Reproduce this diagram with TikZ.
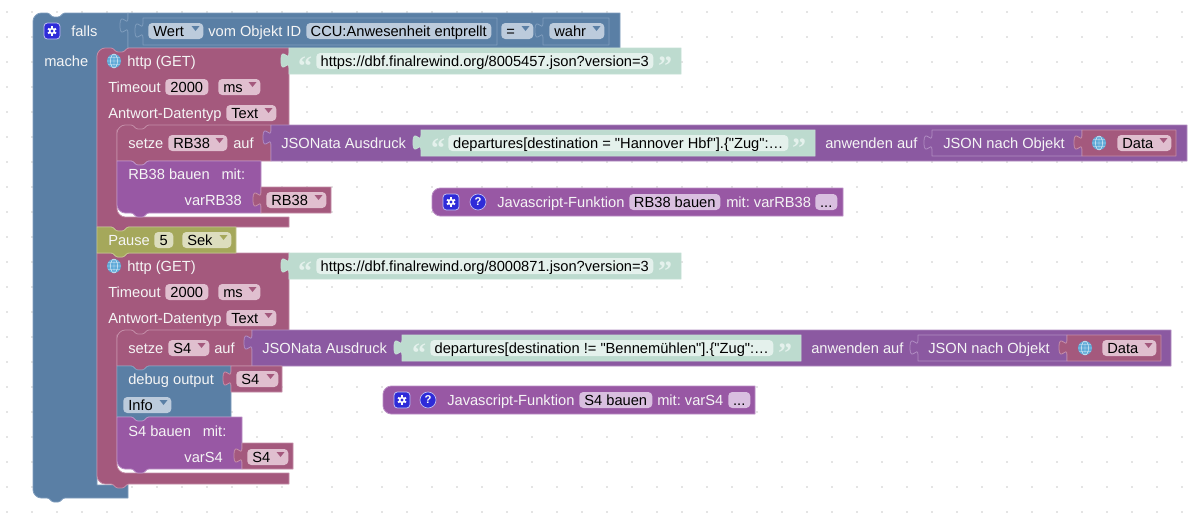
\documentclass[tikz,border=0pt]{standalone}
\usepackage{fontspec}
\usepackage{tikz}
\setmainfont{Liberation Sans}
\newfontfamily\quotefont{Liberation Serif}
\newfontfamily\plainfont{Liberation Sans}[Ligatures=ResetAll]
\usetikzlibrary{positioning,calc}

\definecolor{blueblock}{HTML}{5A7FA5}
\definecolor{blueline}{HTML}{7F9DBD}
\definecolor{bluefield}{HTML}{BCCBDC}
\definecolor{pinkblock}{HTML}{A4597D}
\definecolor{pinkline}{HTML}{C48DA8}
\definecolor{pinkfield}{HTML}{E0BFCF}
\definecolor{purpleblock}{HTML}{9858A4}
\definecolor{purpleline}{HTML}{BB8FC5}
\definecolor{purplefield}{HTML}{D9BFE0}
\definecolor{jsonblock}{HTML}{8B59A1}
\definecolor{jsonline}{HTML}{B08CC2}
\definecolor{greenblock}{HTML}{A5A85B}
\definecolor{greenline}{HTML}{C2C48C}
\definecolor{greenfield}{HTML}{DCDDBE}
\definecolor{tealblock}{HTML}{BDDBCF}
\definecolor{tealfield}{HTML}{E4F1EC}
\definecolor{iconblue}{HTML}{2E2BD8}
\definecolor{globeblue}{HTML}{5FAAD8}

\tikzset{
	blk/.style 2 args={fill=#1,draw=#2,line width=0.6pt,line join=round},
	blueblk/.style={blk={blueblock}{blueline}},
	pinkblk/.style={blk={pinkblock}{pinkline}},
	purpleblk/.style={blk={purpleblock}{purpleline}},
	jsonblk/.style={blk={jsonblock}{jsonline}},
	greenblk/.style={blk={greenblock}{greenline}},
	tealblk/.style={fill=tealblock,draw=tealblock!90!white,line width=0.6pt},
	txt/.style={inner sep=0pt,text height=10pt,text depth=2pt,font=\fontsize{11pt}{12pt}\selectfont\frenchspacing},
	lbl/.style={txt,anchor=west,text=white!96!black},
	field/.style={txt,anchor=west,text=black,rounded corners=3pt,minimum width=#1*0.75pt,align=center},
	ddfield/.style={txt,anchor=west,text=black,rounded corners=3pt,inner xsep=3.75pt,text width=#1*0.75pt-7.5pt,align=left},
	quot/.style={inner sep=0pt,anchor=base,text=tealfield,font=\quotefont\bfseries\fontsize{21pt}{21pt}\selectfont},
}

% top and bottom notch of a block, tab of a block on its left side
\newcommand{\notchtop}[2]{-- (#1+14,#2) .. controls (#1+17,#2) and (#1+18,#2+4) .. (#1+21,#2+4) -- (#1+25,#2+4) .. controls (#1+28,#2+4) and (#1+29,#2) .. (#1+32,#2)}
\newcommand{\notchbot}[2]{-- (#1+32,#2) .. controls (#1+29,#2) and (#1+28,#2+4) .. (#1+25,#2+4) -- (#1+21,#2+4) .. controls (#1+18,#2+4) and (#1+17,#2) .. (#1+14,#2)}
\newcommand{\tabin}[2]{-- (#1,#2+20) .. controls (#1,#2+10) and (#1-8,#2+28) .. (#1-8,#2+12.5) .. controls (#1-8,#2-3) and (#1,#2+15) .. (#1,#2+5)}
% block with a tab: x1, x2, top, bottom
\newcommand{\valblock}[5]{\draw[#1] (#2,#4) -- (#3,#4) -- (#3,#5) -- (#2,#5) \tabin{#2}{#4} -- cycle;}
\newcommand{\ddarrow}[2]{\fill[#2,line join=round] ([shift={(-12,-5)}]#1.east) -- ++(8,0) -- ++(-4,5) -- cycle;}
\newcommand{\straightq}{{\plainfont"}}
\newcommand{\gearicon}[2]{
	\draw[fill=iconblue,draw=white!70!iconblue,line width=0.6pt,rounded corners=2.5pt] (#1-8,#2-8) rectangle (#1+8,#2+8);
	\foreach \a in {30,90,...,330}
		\draw[white,line width=1.4pt] (#1,#2) -- ++(\a:4.6);
	\fill[white] (#1,#2) circle (3.2);
	\fill[iconblue] (#1,#2) circle (1.6);
}
\newcommand{\globeicon}[2]{
	\fill[globeblue] (#1,#2) circle (7);
	\draw[white!85!globeblue,line width=0.35pt] (#1,#2-7) -- (#1,#2+7) (#1-7,#2) -- (#1+7,#2) (#1-6,#2-3.5) -- (#1+6,#2-3.5) (#1-6,#2+3.5) -- (#1+6,#2+3.5) (#1,#2) ellipse (3.5 and 7);
}

\begin{document}
\begin{tikzpicture}[x=0.75pt,y=-0.75pt]
	\useasboundingbox (0,0) rectangle (1200,514);
	\foreach \x in {7,32,...,1182}
		\foreach \y in {12,37,...,512}
			\fill[black!45] (\x,\y) circle (0.55);

	% falls
	\draw[blueblk] (33,21) .. controls (33,17) and (37,13) .. (41,13) \notchtop{33}{13} -- (128,13) -- (128,56) -- (97,56) -- (97,485) -- (128,485) -- (128,498) \notchbot{33}{498} -- (41,498) .. controls (37,498) and (33,494) .. (33,490) -- cycle;
	\valblock{blueblk}{128}{620}{13}{48}
	\valblock{blueblk}{143}{497}{18}{45}
	\valblock{blueblk}{543}{609}{18}{45}
	\gearicon{52}{31}
	\node[lbl] (falls) at (71,31) {falls};
	\node[lbl] (mache) at (44,61) {mache};
	\node[ddfield=55,fill=bluefield] (wert) at (148,31) {Wert};
	\ddarrow{wert}{blueblock}
	\node[lbl] (vomobjekt) at (208,31) {vom Objekt ID};
	\node[field=185,fill=bluefield] (ccu) at (306,31) {CCU:Anwesenheit entprellt};
	\node[ddfield=32,fill=bluefield] (gleich) at (501,31) {=};
	\ddarrow{gleich}{blueblock}
	\node[ddfield=55,fill=bluefield] (wahr) at (549,31) {wahr};
	\ddarrow{wahr}{blueblock}

	% both http blocks, second one below the pause
	\draw[pinkblk] (97,56) .. controls (97,52) and (101,48) .. (105,48) \notchtop{97}{48} -- (289,48) -- (289,130) -- (117,130) -- (117,209) .. controls (117,213) and (121,217) .. (125,217) -- (289,217) -- (289,227) \notchbot{97}{227} -- (97,227) -- cycle;
	\draw[pinkblk] (97,253) \notchtop{97}{253} -- (289,253) -- (289,335) -- (117,335) -- (117,465) .. controls (117,469) and (121,473) .. (125,473) -- (289,473) -- (289,484) \notchbot{97}{484} -- (105,484) .. controls (101,484) and (97,480) .. (97,476) -- cycle;
	\foreach \y/\n/\num in {0/a/8005457,205/b/8000871}{
		\globeicon{114}{61+\y}
		\node[lbl] (http\n) at (127,61+\y) {http (GET)};
		\node[lbl] (timeout\n) at (108,87+\y) {Timeout};
		\node[field=43,fill=pinkfield] (ms\n) at (165,87+\y) {2000};
		\node[ddfield=42,fill=pinkfield] (unit\n) at (218,87+\y) {ms};
		\ddarrow{unit\n}{pinkblock}
		\node[lbl] (antwort\n) at (108,113+\y) {Antwort-Datentyp};
		\node[ddfield=50,fill=pinkfield] (typ\n) at (226,113+\y) {Text};
		\ddarrow{typ\n}{pinkblock}
		\valblock{tealblk}{289}{681}{48+\y}{74+\y}
		\node[quot] (open\n) at (305,75+\y) {“};
		\node[field=337,fill=tealfield] (url\n) at (316,61+\y) {https://dbf.finalrewind.org/\num.json?version=3};
		\node[quot] (close\n) at (665,75+\y) {”};
	}

	% pause
	\draw[greenblk] (97,227) \notchtop{97}{227} -- (236,227) -- (236,253) \notchbot{97}{253} -- (97,253) -- cycle;
	\node[lbl] (pause) at (108,240) {Pause};
	\node[field=19,fill=greenfield] (sek) at (154,240) {5};
	\node[ddfield=49,fill=greenfield] (einheit) at (182,240) {Sek};
	\ddarrow{einheit}{greenblock}

	% setze RB38
	\draw[pinkblk] (117,133) .. controls (117,129) and (121,125) .. (125,125) \notchtop{117}{125} -- (271,125) -- (271,161) \notchbot{117}{161} -- (117,161) -- cycle;
	\node[lbl] (setzea) at (128,143) {setze};
	\node[ddfield=59,fill=pinkfield] (rba) at (168,143) {RB38};
	\ddarrow{rba}{pinkblock}
	\node[lbl] (aufa) at (233,143) {auf};
	\valblock{jsonblk}{271}{1187}{125}{161}
	\node[lbl] (jsonata) at (281,143) {JSONata Ausdruck};
	\valblock{tealblk}{421}{815}{130}{156}
	\node[quot] (opena) at (438,157) {“};
	\node[field=340,fill=tealfield] (ausdrucka) at (448,143) {departures[destination = \straightq Hannover Hbf\straightq].\{\straightq Zug\straightq:…};
	\node[quot] (closea) at (799,157) {”};
	\node[lbl] (anwendena) at (825,143) {anwenden auf};
	\valblock{jsonblk}{932}{1082}{130}{156}
	\node[lbl] (nachobjekta) at (943,143) {JSON nach Objekt};
	\valblock{pinkblk}{1082}{1176}{130}{156}
	\globeicon{1099}{143}
	\node[ddfield=54,fill=pinkfield] (dataa) at (1117,143) {Data};
	\ddarrow{dataa}{pinkblock}

	% RB38 bauen
	\draw[purpleblk] (117,161) \notchtop{117}{161} -- (261,161) -- (261,213) \notchbot{117}{213} -- (125,213) .. controls (121,213) and (117,209) .. (117,205) -- cycle;
	\node[lbl] (bauena) at (128,174) {RB38 bauen\hspace{0.8em}mit:};
	\node[lbl,anchor=east] (vara) at (242,200) {varRB38};
	\valblock{pinkblk}{261}{331}{187}{213}
	\node[ddfield=60,fill=pinkfield] (rbb) at (266,200) {RB38};
	\ddarrow{rbb}{pinkblock}

	% setze S4
	\draw[pinkblk] (117,338) .. controls (117,334) and (121,330) .. (125,330) \notchtop{117}{330} -- (252,330) -- (252,366) \notchbot{117}{366} -- (117,366) -- cycle;
	\node[lbl] (setzeb) at (128,348) {setze};
	\node[ddfield=41,fill=pinkfield] (sa) at (168,348) {S4};
	\ddarrow{sa}{pinkblock}
	\node[lbl] (aufb) at (214,348) {auf};
	\valblock{jsonblk}{252}{1171}{330}{366}
	\node[lbl] (jsonatb) at (262,348) {JSONata Ausdruck};
	\valblock{tealblk}{402}{801}{335}{361}
	\node[quot] (openb) at (419,362) {“};
	\node[field=343,fill=tealfield] (ausdruckb) at (430,348) {departures[destination != \straightq Bennemühlen\straightq].\{\straightq Zug\straightq:…};
	\node[quot] (closeb) at (785,362) {”};
	\node[lbl] (anwendenb) at (811,348) {anwenden auf};
	\valblock{jsonblk}{918}{1067}{335}{361}
	\node[lbl] (nachobjektb) at (928,348) {JSON nach Objekt};
	\valblock{pinkblk}{1067}{1161}{335}{361}
	\globeicon{1085}{348}
	\node[ddfield=54,fill=pinkfield] (datab) at (1102,348) {Data};
	\ddarrow{datab}{pinkblock}

	% debug output
	\draw[blueblk] (117,366) \notchtop{117}{366} -- (231,366) -- (231,417) \notchbot{117}{417} -- (117,417) -- cycle;
	\node[lbl] (debug) at (128,379) {debug output};
	\valblock{pinkblk}{231}{282}{366}{392}
	\node[ddfield=42,fill=pinkfield] (sb) at (236,379) {S4};
	\ddarrow{sb}{pinkblock}
	\node[ddfield=48,fill=bluefield] (info) at (123,405) {Info};
	\ddarrow{info}{blueblock}

	% S4 bauen
	\draw[purpleblk] (117,417) \notchtop{117}{417} -- (242,417) -- (242,469) \notchbot{117}{469} -- (125,469) .. controls (121,469) and (117,465) .. (117,461) -- cycle;
	\node[lbl] (bauenb) at (128,431) {S4 bauen\hspace{0.8em}mit:};
	\node[lbl,anchor=east] (varb) at (223,457) {varS4};
	\valblock{pinkblk}{242}{293}{443}{469}
	\node[ddfield=41,fill=pinkfield] (sc) at (247,457) {S4};
	\ddarrow{sc}{pinkblock}

	% javascript functions
	\draw[purpleblk] (440,188) -- (843,188) -- (843,216) -- (440,216) .. controls (436,216) and (432,212) .. (432,208) -- (432,196) .. controls (432,192) and (436,188) .. (440,188) -- cycle;
	\gearicon{451}{202}
	\node[circle,fill=iconblue,draw=white!70!iconblue,line width=0.5pt,minimum size=12pt,inner sep=0pt,text=white,font=\bfseries\fontsize{8.5pt}{9pt}\selectfont] (helpa) at (478,202) {?};
	\node[lbl] (jsa) at (497,202) {Javascript-Funktion};
	\node[field=91,fill=purplefield] (funca) at (629,202) {RB38 bauen};
	\node[lbl] (mita) at (726,202) {mit: varRB38};
	\node[field=22,fill=purplefield] (dotsa) at (815,202) {...};

	\draw[purpleblk] (391,386) -- (755,386) -- (755,414) -- (391,414) .. controls (387,414) and (383,410) .. (383,406) -- (383,394) .. controls (383,390) and (387,386) .. (391,386) -- cycle;
	\gearicon{402}{400}
	\node[circle,fill=iconblue,draw=white!70!iconblue,line width=0.5pt,minimum size=12pt,inner sep=0pt,text=white,font=\bfseries\fontsize{8.5pt}{9pt}\selectfont] (helpb) at (428,400) {?};
	\node[lbl] (jsb) at (447,400) {Javascript-Funktion};
	\node[field=73,fill=purplefield] (funcb) at (579,400) {S4 bauen};
	\node[lbl] (mitb) at (657,400) {mit: varS4};
	\node[field=22,fill=purplefield] (dotsb) at (728,400) {...};
\end{tikzpicture}
\end{document}
